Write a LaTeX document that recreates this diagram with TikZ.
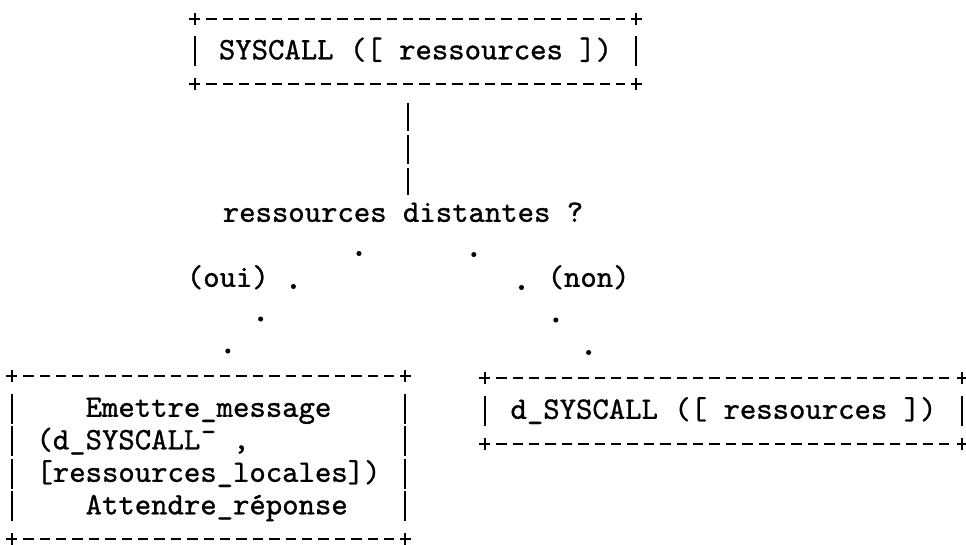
\documentclass[tikz,border=0pt]{standalone}
\usetikzlibrary{calc}
% one drawing unit = one pixel of a 966 x 544 sheet, y pointing down
\newcommand\pxu{0.75pt}
% typewriter face: Latin Modern Mono, slightly thickened
\font\tyf="[lmmono10-regular.otf]:embolden=1.0" at 23.4pt
\newcommand\tyfont{\tyf\baselineskip=24.375pt\relax}
\newcommand\rowstrut{\rule[-5.85pt]{0pt}{23.4pt}}
% typewriter frame: dashed rules, "+" corners, one "|" per text row
\newcommand\asciiframe[2]{%
  \draw[hdash] ($(#1.north west)+(11.4,0)$) -- ($(#1.north east)+(-11.4,0)$);
  \draw[hdash] ($(#1.south west)+(11.4,0)$) -- ($(#1.south east)+(-11.4,0)$);
  \foreach \cn in {north west,north east,south west,south east}
    \draw[plusmark] (#1.\cn) +(-5.5,0) -- +(5.5,0) +(0,-6) -- +(0,6);
  \foreach \r in {1,...,#2}{
    \draw[vbar] ($(#1.north west)+(0,\r*32.5-15)$) -- ++(0,30);
    \draw[vbar] ($(#1.north east)+(0,\r*32.5-15)$) -- ++(0,30);
  }%
}
\begin{document}
\begin{tikzpicture}[x=0.75pt,y=-0.75pt,
  txt/.style={inner sep=0pt,font=\tyfont},
  box/.style={txt},
  hdash/.style={line width=1.4pt,dash pattern=on 7.8pt off 4.5pt},
  vbar/.style={line width=1.5pt},
  plusmark/.style={line width=1.4pt},
  vconn/.style={line width=1.5pt,dash pattern=on 21.5pt off 2.9pt},
  dot/.style={fill=black}]
\useasboundingbox (0,0) rectangle (966,544);

% boxes
\node[box,minimum width={441*\pxu},minimum height={65*\pxu}] (top) at (415.5,51.5)
  {\rowstrut SYSCALL ([ ressources ])};
\node[box,align=left,minimum width={393*\pxu},minimum height={162.5*\pxu}] (emit) at (208.5,457.75)
  {\rowstrut\phantom{000}Emettre\_message\\
   \rowstrut(d\_SYSCALL\textasciimacron{} ,\\
   \rowstrut[ressources\_locales])\\
   \rowstrut\phantom{000}Attendre\_réponse};
\node[box,minimum width={477*\pxu},minimum height={65*\pxu}] (dsys) at (723.5,411)
  {\rowstrut d\_SYSCALL ([ ressources ])};

\asciiframe{top}{1}
\asciiframe{emit}{4}
\asciiframe{dsys}{1}

% test and branch labels
\node[txt] (q) at (403,214) {\rowstrut ressources distantes ?};
\node[txt] (oui) at (227.8,279) {\rowstrut(oui)};
\node[txt] (non) at (588.6,279) {\rowstrut(non)};

% vertical link from the call to the test
\draw[vconn] ($(q.north |- top.south)+(4.5,18.5)$) -- ($(q.north)+(4.5,-3)$);

% dotted branches towards the two boxes
\coordinate (l1) at (359,253.5);
\coordinate (l2) at (293.4,286.5);
\coordinate (l3) at (260.6,319);
\coordinate (l4) at (227.8,351);
\coordinate (r1) at (473.8,254.5);
\coordinate (r2) at (521.5,287.5);
\coordinate (r3) at (555.8,320);
\coordinate (r4) at (588.6,352.5);
\foreach \p in {l1,l2,l3,l4,r1,r2,r3,r4}
  \fill[dot] (\p) circle (1.9pt);
\end{tikzpicture}
\end{document}
